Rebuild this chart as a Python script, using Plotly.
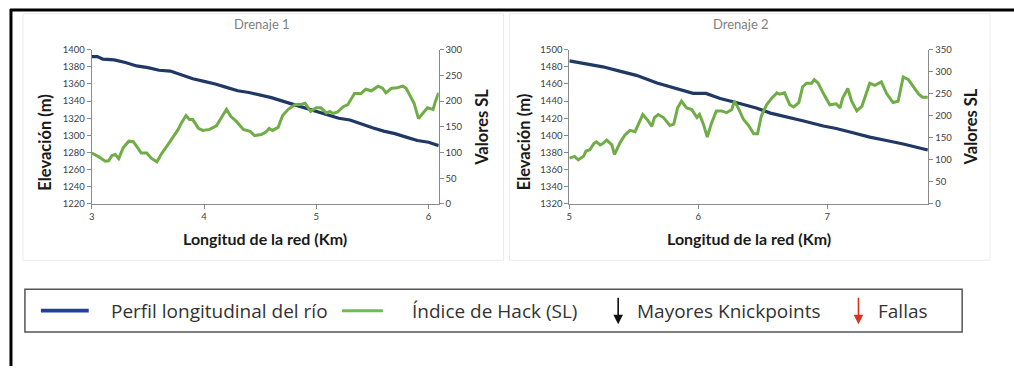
import plotly.graph_objects as go

# ---- Drenaje 1 ----
km1_elev = [3.0, 3.05, 3.1, 3.2, 3.3, 3.4, 3.5, 3.6, 3.7, 3.8, 3.9, 4.0, 4.1, 4.2, 4.3, 4.4,
            4.5, 4.6, 4.7, 4.8, 4.9, 5.0, 5.1, 5.2, 5.3, 5.4, 5.5, 5.6, 5.7, 5.8, 5.9, 6.0, 6.09]
elev1 = [1392, 1392, 1389, 1388, 1385, 1381, 1379, 1376, 1375, 1370, 1366, 1363, 1360, 1356,
         1352, 1350, 1347, 1344, 1340, 1336, 1332, 1328, 1324, 1320, 1318, 1313, 1309, 1305,
         1302, 1298, 1294, 1292, 1288]

km1_sl = [3.0, 3.06, 3.12, 3.15, 3.18, 3.21, 3.24, 3.28, 3.33, 3.37, 3.41, 3.44, 3.49, 3.53,
          3.58, 3.62, 3.68, 3.77, 3.80, 3.84, 3.87, 3.90, 3.95, 3.99, 4.05, 4.11, 4.15, 4.20,
          4.24, 4.29, 4.35, 4.41, 4.45, 4.51, 4.55, 4.58, 4.61, 4.66, 4.70, 4.75, 4.81, 4.87,
          4.90, 4.92, 4.95, 5.00, 5.04, 5.09, 5.12, 5.15, 5.19, 5.24, 5.28, 5.34, 5.40, 5.44,
          5.49, 5.55, 5.59, 5.62, 5.67, 5.72, 5.77, 5.80, 5.84, 5.87, 5.91, 5.95, 5.99, 6.04,
          6.06, 6.09]
sl1 = [99, 92, 83, 84, 94, 96, 88, 109, 122, 121, 109, 99, 99, 89, 82, 97, 116, 145, 158, 172,
       164, 164, 147, 143, 145, 152, 166, 184, 170, 160, 145, 141, 133, 135, 140, 147, 143, 149,
       172, 184, 193, 194, 196, 189, 180, 187, 187, 177, 180, 176, 179, 189, 193, 215, 215, 223,
       220, 229, 225, 216, 225, 226, 229, 225, 210, 196, 166, 177, 187, 184, 199, 216]

# ---- Drenaje 2 ----
km2_elev = [5.0, 5.11, 5.26, 5.39, 5.52, 5.68, 5.78, 5.96, 6.06, 6.17, 6.30, 6.45, 6.56, 6.68,
            6.81, 6.97, 7.07, 7.20, 7.33, 7.46, 7.59, 7.78]
elev2 = [1487, 1484, 1480, 1475, 1470, 1461, 1457, 1449, 1449, 1443, 1438, 1432, 1426, 1422,
         1417, 1411, 1408, 1403, 1398, 1394, 1390, 1383]

km2_sl = [5.0, 5.04, 5.07, 5.11, 5.13, 5.16, 5.19, 5.21, 5.24, 5.26, 5.29, 5.33, 5.35, 5.39,
          5.43, 5.47, 5.51, 5.53, 5.57, 5.61, 5.64, 5.66, 5.69, 5.73, 5.78, 5.81, 5.84, 5.87,
          5.91, 5.95, 5.99, 6.01, 6.04, 6.07, 6.10, 6.14, 6.18, 6.22, 6.26, 6.28, 6.31, 6.35,
          6.39, 6.43, 6.46, 6.49, 6.53, 6.57, 6.61, 6.63, 6.67, 6.71, 6.74, 6.78, 6.81, 6.84,
          6.88, 6.90, 6.93, 6.97, 7.02, 7.07, 7.10, 7.12, 7.16, 7.19, 7.23, 7.27, 7.29, 7.33,
          7.37, 7.40, 7.42, 7.46, 7.51, 7.55, 7.59, 7.63, 7.67, 7.71, 7.74, 7.78]
sl2 = [104, 108, 100, 108, 120, 123, 137, 141, 134, 137, 145, 134, 112, 137, 156, 167, 164,
       178, 203, 189, 176, 196, 203, 196, 178, 181, 218, 233, 218, 214, 196, 203, 181, 152,
       181, 211, 211, 207, 214, 233, 218, 192, 178, 159, 159, 200, 225, 240, 252, 249, 252,
       225, 220, 230, 266, 274, 274, 282, 274, 251, 225, 227, 218, 240, 262, 233, 211, 222,
       240, 274, 269, 273, 277, 251, 230, 233, 288, 282, 266, 249, 242, 242]

panel_titles = ["Drenaje 1", "Drenaje 2"]
x_title = "Longitud de la red (Km)"
y_left_title = "Elevación (m)"
y_right_title = "Valores SL"
legend_labels = ["Perfil longitudinal del río", "Índice de Hack (SL)",
                 "Mayores Knickpoints", "Fallas"]

W, H = 1014, 371
BLUE = "#1f3864"
GREEN = "#70ad47"
AXIS = "#8a8a8a"
TICK_FONT = dict(family="Lato", size=9.5, color="#404040")
FONT = "Lato"
LEGEND_FONT = "Open Sans"


def px(x):
    return x / W


def py(y):
    return 1 - y / H


fig = go.Figure()
fig.add_trace(go.Scatter(x=km1_elev, y=elev1, mode="lines", xaxis="x", yaxis="y",
                         line=dict(color=BLUE, width=3.2)))
fig.add_trace(go.Scatter(x=km1_sl, y=sl1, mode="lines", xaxis="x", yaxis="y2",
                         line=dict(color=GREEN, width=3)))
fig.add_trace(go.Scatter(x=km2_elev, y=elev2, mode="lines", xaxis="x2", yaxis="y3",
                         line=dict(color=BLUE, width=3.2)))
fig.add_trace(go.Scatter(x=km2_sl, y=sl2, mode="lines", xaxis="x2", yaxis="y4",
                         line=dict(color=GREEN, width=3)))

ydom = [py(204), py(45)]
common = dict(showgrid=False, zeroline=False, showline=True, linecolor=AXIS, linewidth=1,
              ticks="outside", ticklen=4, tickcolor=AXIS, tickfont=TICK_FONT)

fig.update_layout(
    width=W, height=H, margin=dict(l=0, r=0, t=0, b=0),
    paper_bgcolor="white", plot_bgcolor="white", showlegend=False,
    xaxis=dict(domain=[px(89), px(437)], range=[3, 6.09], tickvals=[3, 4, 5, 6],
               anchor="y", **common),
    yaxis=dict(domain=ydom, range=[1220, 1400], dtick=20, anchor="x", **common),
    yaxis2=dict(overlaying="y", side="right", range=[0, 300], dtick=50, anchor="x", **common),
    xaxis2=dict(domain=[px(568), px(928)], range=[5, 7.784], tickvals=[5, 6, 7],
                anchor="y3", **common),
    yaxis3=dict(domain=ydom, range=[1320, 1500], dtick=20, anchor="x2", **common),
    yaxis4=dict(overlaying="y3", side="right", range=[0, 350], dtick=50, anchor="x2", **common),
)

shapes = []
# faint frames around each chart
for x0, x1 in [(20, 502), (508, 990)]:
    shapes.append(dict(type="rect", xref="paper", yref="paper", x0=px(x0), x1=px(x1),
                       y0=py(262), y1=py(8), line=dict(color="#ececec", width=1)))
# outer black border (top and left edges)
shapes.append(dict(type="line", xref="paper", yref="paper", x0=px(7), x1=1, y0=py(4), y1=py(4),
                   line=dict(color="black", width=3)))
shapes.append(dict(type="line", xref="paper", yref="paper", x0=px(8), x1=px(8), y0=py(3), y1=0,
                   line=dict(color="black", width=3)))
# legend box and line samples
shapes.append(dict(type="rect", xref="paper", yref="paper", x0=px(22), x1=px(962),
                   y0=py(336), y1=py(292), line=dict(color="#555555", width=1.5)))
shapes.append(dict(type="line", xref="paper", yref="paper", x0=px(38), x1=px(86),
                   y0=py(314), y1=py(314), line=dict(color="#22409a", width=3.8)))
shapes.append(dict(type="line", xref="paper", yref="paper", x0=px(340), x1=px(381),
                   y0=py(314), y1=py(314), line=dict(color="#6cbd4f", width=3)))


def label(x, y, text, size, color, angle=0, xanchor="center", family=FONT):
    return dict(x=px(x), y=py(y), xref="paper", yref="paper", text=text, showarrow=False,
                xanchor=xanchor, yanchor="middle", textangle=angle,
                font=dict(family=family, size=size, color=color))


ann = []
for cx, t in zip([260, 740], panel_titles):
    ann.append(label(cx, 19, t, 13, "#7f7f7f"))
for cx in [263, 748]:
    ann.append(label(cx, 240, f"<b>{x_title}</b>", 16, "#1a1a1a"))
for cx in [42, 522]:
    ann.append(label(cx, 140, f"<b>{y_left_title}</b>", 16.5, "#1a1a1a", angle=-90))
for cx in [481, 971]:
    ann.append(label(cx, 125, f"<b>{y_right_title}</b>", 16.5, "#1a1a1a", angle=-90))

for lx, t in zip([106, 408, 634, 876], legend_labels):
    ann.append(label(lx, 314, t, 19, "#333333", xanchor="left", family=LEGEND_FONT))
# downward arrows in the legend
for ax_x, col in [(617, "#111111"), (858, "#e0301e")]:
    ann.append(dict(x=px(ax_x), y=py(328), xref="paper", yref="paper", text="",
                    showarrow=True, arrowhead=2, arrowsize=1.2, arrowwidth=1.6,
                    arrowcolor=col, ax=0, ay=-28))

fig.update_layout(shapes=shapes, annotations=ann)
fig.write_html("out.html")
